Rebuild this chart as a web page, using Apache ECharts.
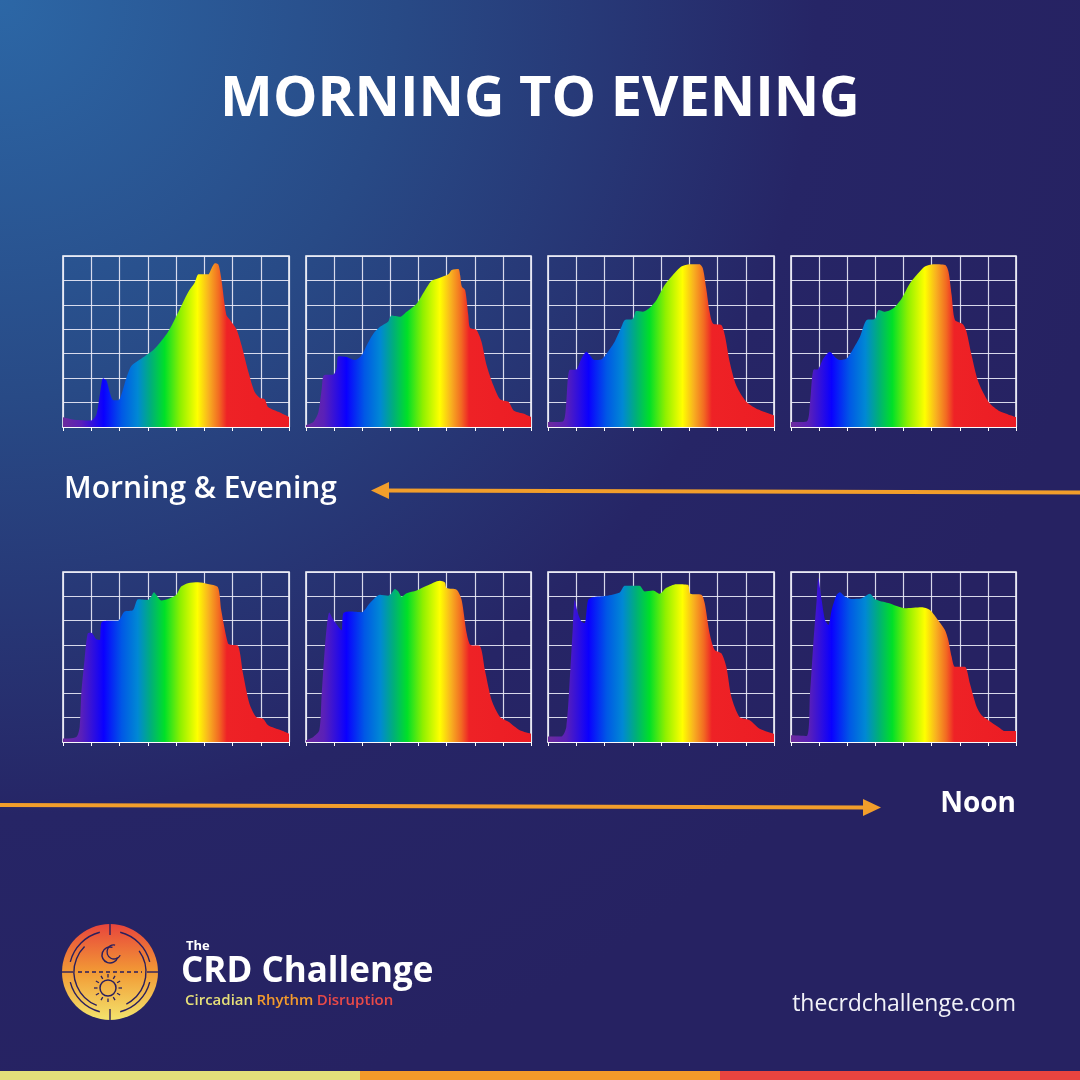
<!DOCTYPE html>
<html><head><meta charset="utf-8">
<script src="https://cdn.jsdelivr.net/npm/echarts@6/dist/echarts.min.js"></script>
<style>html,body{margin:0;padding:0;background:#262262}#c{width:1080px;height:1080px}</style>
</head><body><div id="c"></div>
<script>
// Wavelength (nm) vs relative intensity (grid units x10)
const wavelengthMin = 380, wavelengthMax = 780, wavelengthStep = 50;
const intensityMax = 70, intensityStep = 10;

// Top row: morning & evening
const spectrum1 = [[380,4],[400,3],[430,2.7],[439,5],[445,13],[451,20],[457,19],[463,14],[469,11],[478,11],[483,13],[492,20],[501,25],[519,28],[542,32],[566,39],[584,47],[601,55],[613,59],[620,62.5],[637,62.5],[643,65],[649,67],[655,66.5],[660,61],[669,46],[675,44],[687,40],[696,33.5],[708,22.6],[719,14.4],[728,12],[737,11.4],[743,8.2],[761,6.2],[780,4.1]];
const spectrum2 = [[380,0.7],[393,2],[402,6],[408,15.7],[412,21.2],[429,21.5],[434.5,24],[437.5,29],[452,28.7],[467,27.4],[479,29.4],[488,33.5],[500,38.3],[511.5,41],[526,43.1],[532,45.6],[547,45.1],[559,47.2],[577,50.6],[591.5,56],[603,59.8],[618,61.1],[633,62.5],[639,64.3],[651,64.7],[654,62.2],[657,57.5],[663,56],[668.5,45.8],[671.5,40.6],[683,39.7],[692,34.9],[701,25.3],[713,17.1],[725,11.4],[740,10.3],[749,6.8],[766,5.5],[780,4.1]];
const spectrum3 = [[380,2],[406.5,2.3],[412,8.9],[418,23.3],[430,23.5],[439,28],[448,30.8],[454,29.4],[462.6,27.4],[474,27.6],[486,30.8],[498,34.9],[510,41],[516,43.8],[530,44.2],[536,47.5],[548,47.2],[560,48.8],[572,52],[586.5,58.1],[601,62.2],[616,65.7],[631,66.6],[648,66.6],[654,65],[660,56.8],[666,47.2],[672,42.4],[687,41.7],[693,37.6],[701.5,26.7],[713,17.1],[731,10.3],[749,7.5],[780,4.8]];
const spectrum4 = [[380,2],[408,2.3],[414,10.3],[419.7,23.3],[428.6,23.7],[437.5,28],[449,30.8],[458,28.7],[467,27.4],[479,28],[491,32.1],[502.6,36.9],[514.5,43.8],[529,44.2],[536,47.9],[547,47.2],[562,48.6],[577,52.7],[591.5,58.8],[606,62.9],[618,65.7],[633,66.6],[654,66.3],[660,63.6],[665.6,54],[671.5,43.8],[686,42],[692,39],[701,29.4],[713,18.5],[731,10.3],[748.5,6.8],[780,4.1]];
// Bottom row: towards noon
const spectrum5 = [[380,1.4],[403.6,2.1],[409.5,6.2],[412.4,20],[418,33.7],[424,44.8],[430,45],[439,42.3],[445,42],[448,49.2],[459.6,49.9],[477,49.9],[489,53.7],[504,54.4],[512.7,58.8],[530,58.5],[536,59.9],[541,61.7],[545,60.6],[554,58.3],[569,59.2],[580.6,60.6],[589,64],[601,65.4],[619,65.8],[636.6,65.1],[654,63.8],[660,54.4],[672,40.6],[678,40],[690,39.5],[698.6,28.2],[710,15.8],[722,10.3],[734,9.6],[743,6.9],[766,4.8],[780,3.4]];
const spectrum6 = [[380,0.7],[393,2.1],[403.7,4.8],[407.8,19.3],[413.8,39.3],[421.5,53.3],[428.6,50.3],[437.5,47.5],[443.4,46],[446.4,53],[458,53.7],[479,53.4],[493.7,57.2],[511.5,60.6],[526,60.2],[532,61.3],[538,63],[544,62],[550,59.9],[559,61.3],[576.7,62.4],[594.5,64.3],[618,66.4],[627,65.7],[630,63.4],[647.8,62.7],[656.7,58.5],[665.6,44.8],[672.7,39.9],[689,39.5],[698,29.6],[710,17.2],[725,10.3],[740,8.3],[760,4.8],[780,3.4]];
const spectrum7 = [[380,2.3],[403.6,2.3],[412.4,6.2],[419.5,29.6],[424,47.5],[427.2,58.5],[433,53],[439,49.6],[445,48.9],[451,58.5],[459.6,59.6],[483,60.2],[507,61.6],[515.7,64.3],[530.4,64.3],[542,64.3],[551,62],[566,62.4],[577.6,61],[589,63.4],[607,65],[627.8,64.7],[632,61],[651.4,60.6],[657.3,57.2],[666,44.8],[675,37.9],[686.8,36.5],[695.6,31],[704.5,18.6],[719,10.3],[737,9],[754.6,5.5],[780,3.4]];
const spectrum8 = [[380,2.8],[407.8,2.5],[413.8,20],[419.7,40.6],[425.6,58.5],[428.6,67.5],[434.5,58.5],[440.4,50.3],[446.4,48.2],[452.3,54.4],[461.2,60.6],[467,61.7],[476,59.9],[487.8,58.9],[505.6,59.2],[520.4,61],[529.3,58.8],[553,57.2],[582.6,55.1],[612,55.5],[627,54.4],[638.9,51],[653.7,46.1],[659.6,42],[665.6,35.1],[671.5,31],[689,31],[698,24.1],[710,14.5],[718.9,11],[730.7,9],[748.5,6.2],[760.3,4.5],[780,4.5]];

const spectra = [spectrum1, spectrum2, spectrum3, spectrum4, spectrum5, spectrum6, spectrum7, spectrum8];
const gridBoxes = [
  [63,256,226,171],[306,256,225,171],[548,256,226,171],[791,256,225,171],
  [63,572,226,170],[306,572,225,170],[548,572,226,170],[791,572,225,170]
];

const rainbow = {
  type:'linear', x:0, y:0, x2:1, y2:0,
  colorStops:[
    {offset:0, color:'#6c2c9c'},
    {offset:0.08, color:'#5a20b8'},
    {offset:0.18, color:'#0a00ff'},
    {offset:0.26, color:'#0058e6'},
    {offset:0.33, color:'#0088d4'},
    {offset:0.39, color:'#00b078'},
    {offset:0.45, color:'#00e028'},
    {offset:0.52, color:'#90f000'},
    {offset:0.595, color:'#ffff00'},
    {offset:0.645, color:'#f8b020'},
    {offset:0.69, color:'#f26a22'},
    {offset:0.725, color:'#ee2226'},
    {offset:1, color:'#ec1c24'}
  ]
};

const grids = [], xAxes = [], yAxes = [], series = [];
spectra.forEach((data, i) => {
  const b = gridBoxes[i];
  grids.push({left:b[0], top:b[1], width:b[2], height:b[3], show:true, borderColor:'#ffffff', borderWidth:1.5, backgroundColor:'transparent'});
  xAxes.push({type:'value', gridIndex:i, min:wavelengthMin, max:wavelengthMax, interval:wavelengthStep,
    axisLabel:{show:false}, axisLine:{show:true, lineStyle:{color:'#ffffff', width:1.5}},
    axisTick:{show:true, length:4, lineStyle:{color:'#ffffff', width:1}},
    splitLine:{show:true, lineStyle:{color:'rgba(235,235,248,0.9)', width:1.2}}});
  yAxes.push({type:'value', gridIndex:i, min:0, max:intensityMax, interval:intensityStep,
    axisLabel:{show:false}, axisLine:{show:false}, axisTick:{show:false},
    splitLine:{show:true, lineStyle:{color:'rgba(235,235,248,0.9)', width:1.2}}});
  series.push({type:'line', xAxisIndex:i, yAxisIndex:i, data:data, smooth:0.25, symbol:'none',
    lineStyle:{width:0}, areaStyle:{color:rainbow, opacity:1}, z:3});
});

const ink = '#2a1f5e';
const logoCx = 110, logoCy = 972;
const rays = [];
for (let k = 0; k < 12; k++) {
  const a = k * Math.PI / 6;
  rays.push({type:'line', shape:{x1:logoCx-2+Math.cos(a)*10.5, y1:logoCy+16+Math.sin(a)*10.5, x2:logoCx-2+Math.cos(a)*14, y2:logoCy+16+Math.sin(a)*14}, style:{stroke:ink, lineWidth:1.3}, z:12});
}

const graphic = [
  {type:'text', x:540, y:100, style:{text:'MORNING TO EVENING', fill:'#ffffff', font:'bold 56px "Open Sans"', textAlign:'center', textVerticalAlign:'middle'}, z:10},
  {type:'text', x:64, y:489, style:{text:'Morning & Evening', fill:'#ffffff', font:'600 30px "Open Sans"', textAlign:'left', textVerticalAlign:'middle'}, z:10},
  {type:'line', shape:{x1:1080, y1:492.5, x2:384, y2:490.5}, style:{stroke:'#f29e2b', lineWidth:4}, z:10},
  {type:'polygon', shape:{points:[[371,490.5],[389,482],[389,499]]}, style:{fill:'#f29e2b'}, z:10},
  {type:'line', shape:{x1:0, y1:805, x2:866, y2:807.5}, style:{stroke:'#f29e2b', lineWidth:4}, z:10},
  {type:'polygon', shape:{points:[[881,807.5],[863,799],[863,816]]}, style:{fill:'#f29e2b'}, z:10},
  {type:'text', x:1016, y:804, style:{text:'Noon', fill:'#ffffff', font:'bold 28px "Open Sans"', textAlign:'right', textVerticalAlign:'middle'}, z:10},
  // logo
  {type:'circle', shape:{cx:logoCx, cy:logoCy, r:48}, style:{fill:{type:'linear', x:0, y:0, x2:0, y2:1, colorStops:[{offset:0, color:'#e8453c'},{offset:0.5, color:'#f29a35'},{offset:1, color:'#f3e36c'}]}}, z:10},
  {type:'arc', shape:{cx:logoCx, cy:logoCy, r:41, startAngle:Math.PI*1.08, endAngle:Math.PI*1.42}, style:{stroke:ink, lineWidth:1.4, fill:null}, z:11},
  {type:'arc', shape:{cx:logoCx, cy:logoCy, r:41, startAngle:Math.PI*1.58, endAngle:Math.PI*1.92}, style:{stroke:ink, lineWidth:1.4, fill:null}, z:11},
  {type:'arc', shape:{cx:logoCx, cy:logoCy, r:41, startAngle:Math.PI*0.08, endAngle:Math.PI*0.42}, style:{stroke:ink, lineWidth:1.4, fill:null}, z:11},
  {type:'arc', shape:{cx:logoCx, cy:logoCy, r:41, startAngle:Math.PI*0.58, endAngle:Math.PI*0.92}, style:{stroke:ink, lineWidth:1.4, fill:null}, z:11},
  {type:'arc', shape:{cx:logoCx, cy:logoCy, r:36, startAngle:Math.PI*0.62, endAngle:Math.PI*1.25}, style:{stroke:ink, lineWidth:1.4, fill:null}, z:11},
  {type:'arc', shape:{cx:logoCx, cy:logoCy, r:36, startAngle:Math.PI*1.8, endAngle:Math.PI*2.35}, style:{stroke:ink, lineWidth:1.4, fill:null}, z:11},
  {type:'line', shape:{x1:logoCx, y1:logoCy-48, x2:logoCx, y2:logoCy-37}, style:{stroke:ink, lineWidth:1.4}, z:11},
  {type:'line', shape:{x1:logoCx, y1:logoCy+37, x2:logoCx, y2:logoCy+48}, style:{stroke:ink, lineWidth:1.4}, z:11},
  {type:'line', shape:{x1:logoCx-48, y1:logoCy, x2:logoCx-37, y2:logoCy}, style:{stroke:ink, lineWidth:1.4}, z:11},
  {type:'line', shape:{x1:logoCx+37, y1:logoCy, x2:logoCx+48, y2:logoCy}, style:{stroke:ink, lineWidth:1.4}, z:11},
  {type:'line', shape:{x1:logoCx-32, y1:logoCy, x2:logoCx+32, y2:logoCy}, style:{stroke:ink, lineWidth:1.4, lineDash:[4,3]}, z:11},
  {type:'arc', shape:{cx:logoCx, cy:logoCy-17, r:8, startAngle:Math.PI*0.1, endAngle:Math.PI*1.6}, style:{stroke:ink, lineWidth:1.5, fill:null}, z:11},
  {type:'arc', shape:{cx:logoCx+4, cy:logoCy-20, r:7, startAngle:Math.PI*0.15, endAngle:Math.PI*1.55}, style:{stroke:ink, lineWidth:1.3, fill:null}, z:11},
  {type:'circle', shape:{cx:logoCx-2, cy:logoCy+16, r:8}, style:{stroke:ink, lineWidth:1.5, fill:null}, z:11},
  ...rays,
  {type:'text', x:186, y:946, style:{text:'The', fill:'#ffffff', font:'bold 13px "Open Sans"', textAlign:'left', textVerticalAlign:'middle'}, z:10},
  {type:'text', x:181, y:972, style:{text:'CRD Challenge', fill:'#ffffff', font:'bold 35px "Open Sans"', textAlign:'left', textVerticalAlign:'middle'}, z:10},
  {type:'text', x:185, y:1001, style:{text:'{a|Circadian} {b|Rhythm} {c|Disruption}', textAlign:'left', textVerticalAlign:'middle',
    rich:{a:{fill:'#e6df78', font:'600 15px "Open Sans"'}, b:{fill:'#f39a2c', font:'600 15px "Open Sans"'}, c:{fill:'#e94a48', font:'600 15px "Open Sans"'}}}, z:10},
  {type:'text', x:1016, y:1004, style:{text:'thecrdchallenge.com', fill:'#f2f2f8', font:'23px "Open Sans"', textAlign:'right', textVerticalAlign:'middle'}, z:10},
  {type:'rect', shape:{x:0, y:1071, width:360, height:9}, style:{fill:'#e3df7a'}, z:10},
  {type:'rect', shape:{x:360, y:1071, width:360, height:9}, style:{fill:'#f49a2a'}, z:10},
  {type:'rect', shape:{x:720, y:1071, width:360, height:9}, style:{fill:'#e8443f'}, z:10}
];

const chart = echarts.init(document.getElementById('c'), null, {renderer:'canvas'});
chart.setOption({
  animation:false,
  backgroundColor:{type:'radial', x:0, y:0, r:1.05, colorStops:[
    {offset:0, color:'#2c67a6'},
    {offset:0.35, color:'#284a86'},
    {offset:0.72, color:'#262566'},
    {offset:1, color:'#262262'}
  ]},
  grid:grids, xAxis:xAxes, yAxis:yAxes, series:series, graphic:graphic
});
</script></body></html>
